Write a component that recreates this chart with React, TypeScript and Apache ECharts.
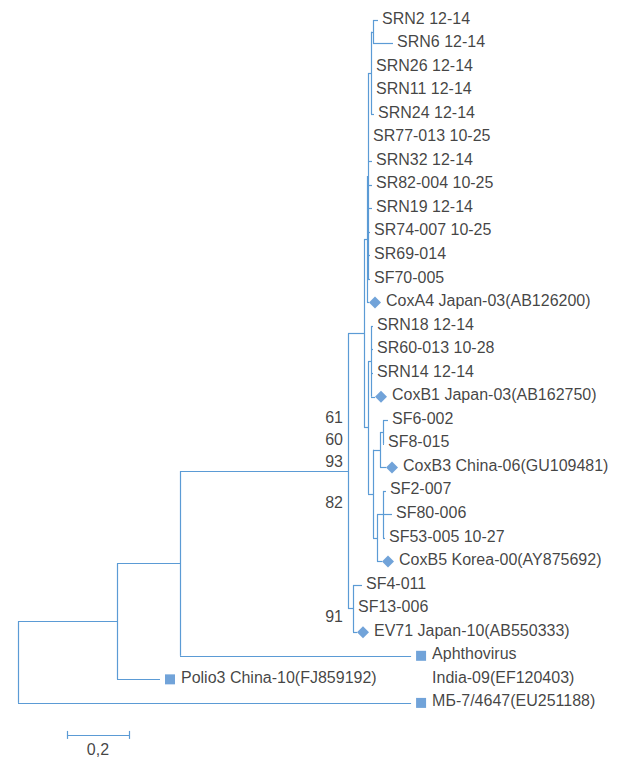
import React, { useEffect, useRef } from 'react';
import * as echarts from 'echarts';

// Leaves, top to bottom (row index = position in array)
const leafNames = [
  'SRN2 12-14', 'SRN6 12-14', 'SRN26 12-14', 'SRN11 12-14', 'SRN24 12-14',
  'SR77-013 10-25', 'SRN32 12-14', 'SR82-004 10-25', 'SRN19 12-14', 'SR74-007 10-25',
  'SR69-014', 'SF70-005', 'CoxA4 Japan-03(AB126200)', 'SRN18 12-14', 'SR60-013 10-28',
  'SRN14 12-14', 'CoxB1 Japan-03(AB162750)', 'SF6-002', 'SF8-015', 'CoxB3 China-06(GU109481)',
  'SF2-007', 'SF80-006', 'SF53-005 10-27', 'CoxB5 Korea-00(AY875692)', 'SF4-011',
  'SF13-006', 'EV71 Japan-10(AB550333)', 'Aphthovirus\nIndia-09(EF120403)', 'Polio3 China-10(FJ859192)', 'МБ-7/4647(EU251188)',
];
// Distance of each leaf tip from the root (substitutions per site)
const leafDepths = [
  1.1613, 1.2097, 1.1419, 1.1419, 1.1484,
  1.1323, 1.1419, 1.1419, 1.1419, 1.1355,
  1.1355, 1.1355, 1.1323, 1.1452, 1.1452,
  1.1452, 1.1516, 1.1935, 1.1806, 1.1871,
  1.1871, 1.2065, 1.1839, 1.1742, 1.1097,
  1.0839, 1.0935, 1.268, 0.458, 1.268,
];
const leafMarkers = [
  '', '', '', '', '', '', '', '', '', '', '', '', 'diamond', '', '', '', 'diamond', '', '', 'diamond',
  '', '', '', 'diamond', '', '', 'diamond', 'rect', 'rect', 'rect',
];
// Internal nodes: [id, distance from root, children (leaf index or node id)]
const internalNodes: [string, number, (string | number)[]][] = [
  ['root', 0, ['P', 29]],
  ['P', 0.3194, ['Q', 28]],
  ['Q', 0.5226, ['E', 27]],
  ['E', 1.0645, ['U', 'EV']],
  ['EV', 1.0806, [24, 25, 26]],
  ['U', 1.1161, ['A', 'B']],
  ['A', 1.1258, ['A1', 12]],
  ['A1', 1.129, ['A2', 5, 6, 7, 8, 9, 10, 11]],
  ['A2', 1.1387, ['A3', 2, 3, 4]],
  ['A3', 1.1452, [0, 1]],
  ['B', 1.129, ['B1', 'B35']],
  ['B1', 1.1387, [13, 14, 15, 16]],
  ['B35', 1.1452, ['B3', 'B5']],
  ['B3', 1.1677, ['B3a', 19]],
  ['B3a', 1.1774, [17, 18]],
  ['B5', 1.1581, ['B5a', 23]],
  ['B5a', 1.1774, [20, 21, 22]],
];
// Bootstrap support labels (shown left of the enterovirus node)
const bootstrapValues = [61, 60, 93, 82, 91];
const bootstrapRows = [16.86, 17.83, 18.73, 20.51, 25.35];
const bootstrapNode = 'E';
// Scale bar
const scaleBarStart = 0.158;
const scaleBarLength = 0.2;
const scaleBarLabel = '0,2';
const scaleBarRow = 30.36;

const LINE = '#5b9bd5';
const MARK = '#4d8ccf';
const TEXT = '#111';
const FONT = '"Liberation Sans", Arial, sans-serif';

function buildSegments() {
  const nodeMap = new Map(internalNodes.map((n) => [n[0], n]));
  const segs: number[][][] = [];
  const visit = (id: string): number => {
    const [, depth, children] = nodeMap.get(id)!;
    const ys = children.map((c) => {
      let cy: number;
      let cx: number;
      if (typeof c === 'number') {
        cy = c;
        cx = leafDepths[c];
      } else {
        cy = visit(c);
        cx = nodeMap.get(c)![1];
      }
      segs.push([[depth, cy], [cx, cy]]);
      return cy;
    });
    segs.push([[depth, ys[0]], [depth, ys[ys.length - 1]]]);
    return (ys[0] + ys[ys.length - 1]) / 2;
  };
  visit('root');
  return segs;
}

export default function App() {
  const ref = useRef<HTMLDivElement>(null);
  useEffect(() => {
    const chart = echarts.init(ref.current!, undefined, { renderer: 'svg' });
    const segs = buildSegments();
    const nodeDepth = internalNodes.find((n) => n[0] === bootstrapNode)![1];
    const tick = 0.17;
    const scaleSegs = [
      [[scaleBarStart, scaleBarRow], [scaleBarStart + scaleBarLength, scaleBarRow]],
      [[scaleBarStart, scaleBarRow - tick], [scaleBarStart, scaleBarRow + tick]],
      [[scaleBarStart + scaleBarLength, scaleBarRow - tick], [scaleBarStart + scaleBarLength, scaleBarRow + tick]],
    ];
    const labelStyle = { fontFamily: FONT, fontSize: 16, color: TEXT };
    chart.setOption({
      animation: false,
      grid: { left: 18, top: 20, width: 589, height: 730 },
      xAxis: { type: 'value', min: 0, max: 1.9, show: false },
      yAxis: { type: 'value', min: 0, max: 31, inverse: true, show: false },
      series: [
        {
          type: 'lines',
          coordinateSystem: 'cartesian2d',
          silent: true,
          clip: false,
          lineStyle: { color: LINE, width: 1.2, opacity: 1 },
          data: segs.concat(scaleSegs).map((s) => ({ coords: s })),
          z: 2,
        },
        {
          type: 'scatter',
          silent: true,
          clip: false,
          z: 3,
          data: leafNames
            .map((_, i) => i)
            .filter((i) => leafMarkers[i])
            .map((i) => {
              const d = leafMarkers[i] === 'diamond';
              return {
                value: [leafDepths[i], i],
                symbol: d ? 'diamond' : 'rect',
                symbolSize: d ? [12, 12] : [10, 10],
                symbolOffset: [d ? 6 : 10, 0],
                itemStyle: { color: MARK },
              };
            }),
        },
        {
          type: 'scatter',
          silent: true,
          clip: false,
          z: 4,
          symbolSize: 0,
          itemStyle: { color: 'transparent' },
          data: leafNames.map((name, i) => {
            const m = leafMarkers[i];
            const multi = name.includes('\n');
            return {
              value: [leafDepths[i], i],
              label: {
                show: true,
                position: 'right',
                distance: m === 'diamond' ? 17 : m === 'rect' ? 21 : 4,
                formatter: name,
                lineHeight: 23.5,
                offset: multi ? [0, 9.75] : [0, -2],
                ...labelStyle,
              },
            };
          }),
        },
        {
          type: 'scatter',
          silent: true,
          clip: false,
          z: 4,
          symbolSize: 0,
          itemStyle: { color: 'transparent' },
          data: bootstrapValues.map((v, i) => ({
            value: [nodeDepth, bootstrapRows[i]],
            label: { show: true, position: 'left', distance: 5, formatter: String(v), ...labelStyle },
          })),
        },
        {
          type: 'scatter',
          silent: true,
          clip: false,
          z: 4,
          symbolSize: 0,
          itemStyle: { color: 'transparent' },
          data: [
            {
              value: [scaleBarStart + scaleBarLength / 2, scaleBarRow],
              label: { show: true, position: 'bottom', distance: 7, formatter: scaleBarLabel, ...labelStyle },
            },
          ],
        },
      ],
    });
    return () => chart.dispose();
  }, []);
  return <div ref={ref} style={{ position: 'absolute', left: 0, top: 0, width: 617, height: 760 }} />;
}
